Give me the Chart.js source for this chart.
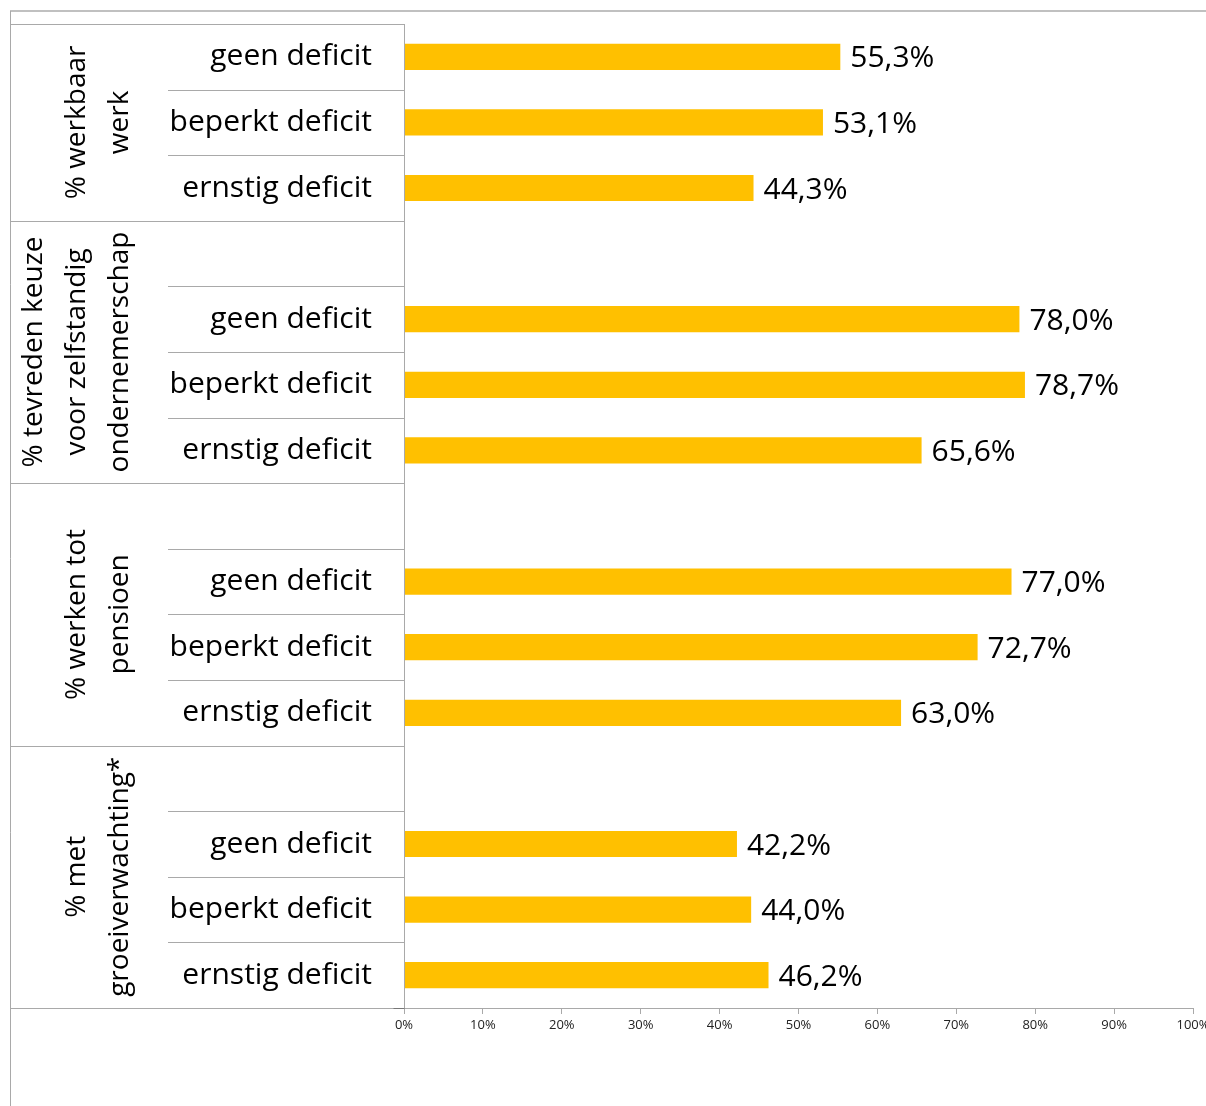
<!DOCTYPE html>
<html>
<head>
<meta charset="utf-8">
<script src="https://cdn.jsdelivr.net/npm/chart.js@4.4.1/dist/chart.umd.min.js"></script>
<style>
  html, body { margin: 0; padding: 0; background: #fff; }
  canvas { display: block; }
</style>
</head>
<body>
<canvas id="chart" width="1206" height="1106"></canvas>
<script>
// rows of the chart, an empty row opens each group after the first
const categories = [
  'geen deficit', 'beperkt deficit', 'ernstig deficit',
  '', 'geen deficit', 'beperkt deficit', 'ernstig deficit',
  '', 'geen deficit', 'beperkt deficit', 'ernstig deficit',
  '', 'geen deficit', 'beperkt deficit', 'ernstig deficit'
];
const values = [
  55.3, 53.1, 44.3,
  null, 78.0, 78.7, 65.6,
  null, 77.0, 72.7, 63.0,
  null, 42.2, 44.0, 46.2
];
const groupLabels = [
  ['% werkbaar', 'werk'],
  ['% tevreden keuze', 'voor zelfstandig', 'ondernemerschap'],
  ['% werken tot', 'pensioen'],
  ['% met', 'groeiverwachting*']
];
const groupStart = [0, 3, 7, 11];
const groupEnd = [3, 7, 11, 15];
const xTicks = [0, 10, 20, 30, 40, 50, 60, 70, 80, 90, 100];

const FONT = '"Open Sans", "DejaVu Sans", sans-serif';
const LINE = '#a9a9a9';

function fmt(v) {
  return v.toFixed(1).replace('.', ',') + '%';
}

// value labels at the end of each bar
const valueLabels = {
  id: 'valueLabels',
  afterDatasetsDraw(chart) {
    const ctx = chart.ctx;
    const meta = chart.getDatasetMeta(0);
    ctx.save();
    ctx.font = '30px ' + FONT;
    ctx.fillStyle = '#000';
    ctx.textAlign = 'left';
    ctx.textBaseline = 'middle';
    meta.data.forEach((bar, i) => {
      if (values[i] == null) return;
      ctx.fillText(fmt(values[i]), bar.x + 10, bar.y + 2);
    });
    ctx.restore();
  }
};

// table lines and rotated group titles on the left
const tableFrame = {
  id: 'tableFrame',
  afterDraw(chart) {
    const ctx = chart.ctx;
    const y = chart.scales.y;
    const x = chart.scales.x;
    const area = chart.chartArea;
    const left = 10;
    const innerLeft = 168;
    const axisX = Math.round(x.getPixelForValue(0)) + 0.5;

    const edge = i => {
      if (i <= 0) return area.top;
      if (i >= categories.length) return area.bottom;
      return (y.getPixelForValue(i - 1) + y.getPixelForValue(i)) / 2;
    };

    ctx.save();
    ctx.strokeStyle = LINE;
    ctx.lineWidth = 1;

    function hline(x1, x2, yy) {
      yy = Math.round(yy) + 0.5;
      ctx.beginPath();
      ctx.moveTo(x1, yy);
      ctx.lineTo(x2, yy);
      ctx.stroke();
    }

    // outer frame
    ctx.strokeStyle = '#c0c0c0';
    ctx.lineWidth = 2;
    ctx.beginPath();
    ctx.moveTo(left, 11);
    ctx.lineTo(1206, 11);
    ctx.stroke();
    ctx.lineWidth = 1;
    ctx.strokeStyle = LINE;
    ctx.beginPath();
    ctx.moveTo(left + 0.5, 11);
    ctx.lineTo(left + 0.5, 1106);
    ctx.stroke();

    // row separators
    for (let i = 1; i < categories.length; i++) {
      const isGroup = groupStart.indexOf(i) >= 0;
      hline(isGroup ? left : innerLeft, axisX, edge(i));
    }
    hline(left, axisX, area.top);
    hline(left, axisX, area.bottom);

    // axis line
    ctx.beginPath();
    ctx.moveTo(axisX, area.top);
    ctx.lineTo(axisX, area.bottom + 6);
    ctx.stroke();
    ctx.strokeStyle = '#777';
    hline(axisX - 11, axisX, area.bottom);

    // group titles
    ctx.fillStyle = '#000';
    ctx.font = '28px ' + FONT;
    ctx.textAlign = 'center';
    ctx.textBaseline = 'middle';
    groupLabels.forEach((lines, g) => {
      const cy = (edge(groupStart[g]) + edge(groupEnd[g])) / 2;
      ctx.save();
      ctx.translate(0, cy);
      ctx.rotate(-Math.PI / 2);
      lines.forEach((txt, k) => {
        const cx = 120 - (lines.length - 1 - k) * 43;
        ctx.fillText(txt, 0, cx);
      });
      ctx.restore();
    });
    ctx.restore();
  }
};

new Chart(document.getElementById('chart'), {
  type: 'bar',
  data: {
    labels: categories,
    datasets: [{
      data: values,
      backgroundColor: '#FFC000',
      borderWidth: 0,
      categoryPercentage: 1,
      barPercentage: 0.4
    }]
  },
  options: {
    indexAxis: 'y',
    responsive: false,
    animation: false,
    layout: { padding: { left: 10, top: 24, right: 13, bottom: 0 } },
    plugins: {
      legend: { display: false },
      tooltip: { enabled: false }
    },
    scales: {
      y: {
        afterFit(scale) {
          scale.width = 394;
          scale.paddingTop = 0;
          scale.paddingBottom = 0;
        },
        grid: { display: false, drawTicks: false },
        border: { display: false },
        ticks: {
          padding: 32,
          color: '#000',
          font: { family: FONT, size: 30 },
          autoSkip: false
        }
      },
      x: {
        min: 0,
        max: 100,
        afterFit(scale) {
          scale.height = 98;
          scale.paddingLeft = 0;
          scale.paddingRight = 0;
        },
        afterBuildTicks(scale) { scale.ticks = xTicks.map(v => ({ value: v })); },
        grid: {
          drawOnChartArea: false,
          drawTicks: true,
          tickLength: 6,
          color: LINE
        },
        border: { display: true, color: LINE, width: 1 },
        ticks: {
          padding: 3,
          color: '#222',
          maxRotation: 0,
          font: { family: FONT, size: 13 },
          callback: v => v + '%'
        }
      }
    }
  },
  plugins: [valueLabels, tableFrame]
});
</script>
</body>
</html>
